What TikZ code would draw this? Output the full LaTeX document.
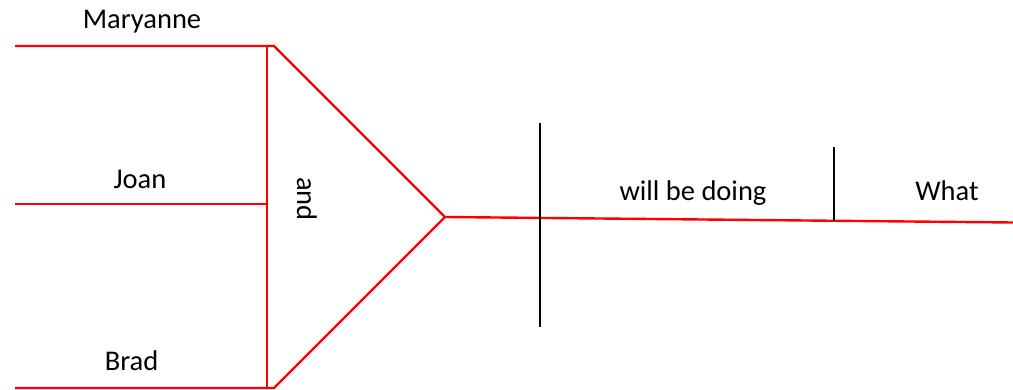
\documentclass[tikz,border=0pt]{standalone}
\usepackage{fontspec}
\setmainfont{Carlito}
\usetikzlibrary{positioning}
\tikzset{
  redline/.style={draw=red, line width=2.4pt},
  stemline/.style={draw=black, line width=2.8pt},
  word/.style={inner sep=0pt, anchor=base, font=\fontsize{28.5}{34}\selectfont},
}
\begin{document}
\begin{tikzpicture}[x=1pt,y=-1pt]
\useasboundingbox (0,0) rectangle (1013,389);
% compound subject
\coordinate (mar0) at (15,46);
\coordinate (mar1) at (274,46);
\coordinate (joa0) at (15,204);
\coordinate (joa1) at (267,204);
\coordinate (bra0) at (15,388);
\coordinate (bra1) at (274,388);
\coordinate (forktop) at (267,46);
\coordinate (forkbot) at (267,388);
\coordinate (apex) at (445,217);
% predicate line
\coordinate (lineend) at (1013,222.5);
\coordinate (svtop) at (540,123);
\coordinate (svbot) at (540,327);
\coordinate (votop) at (834,147);
\coordinate (vobot) at (834,221);

\node[word] (maryanne) at (142,28) {Maryanne};
\node[word] (joan) at (140,188) {Joan};
\node[word] (brad) at (131.5,370) {Brad};
\node[word, anchor=center, rotate=-90] (conj) at (307,199) {and};
\node[word] (verb) at (693,200) {will be doing};
\node[word] (obj) at (947,200) {What};

\draw[redline] (mar0) -- (mar1) -- (apex) -- (bra1) -- (bra0);
\draw[redline] (joa0) -- (joa1);
\draw[redline] (forktop) -- (forkbot);
\draw[redline] (apex) -- (lineend);
\draw[stemline] (svtop) -- (svbot);
\draw[stemline] (votop) -- (vobot);
\end{tikzpicture}
\end{document}
